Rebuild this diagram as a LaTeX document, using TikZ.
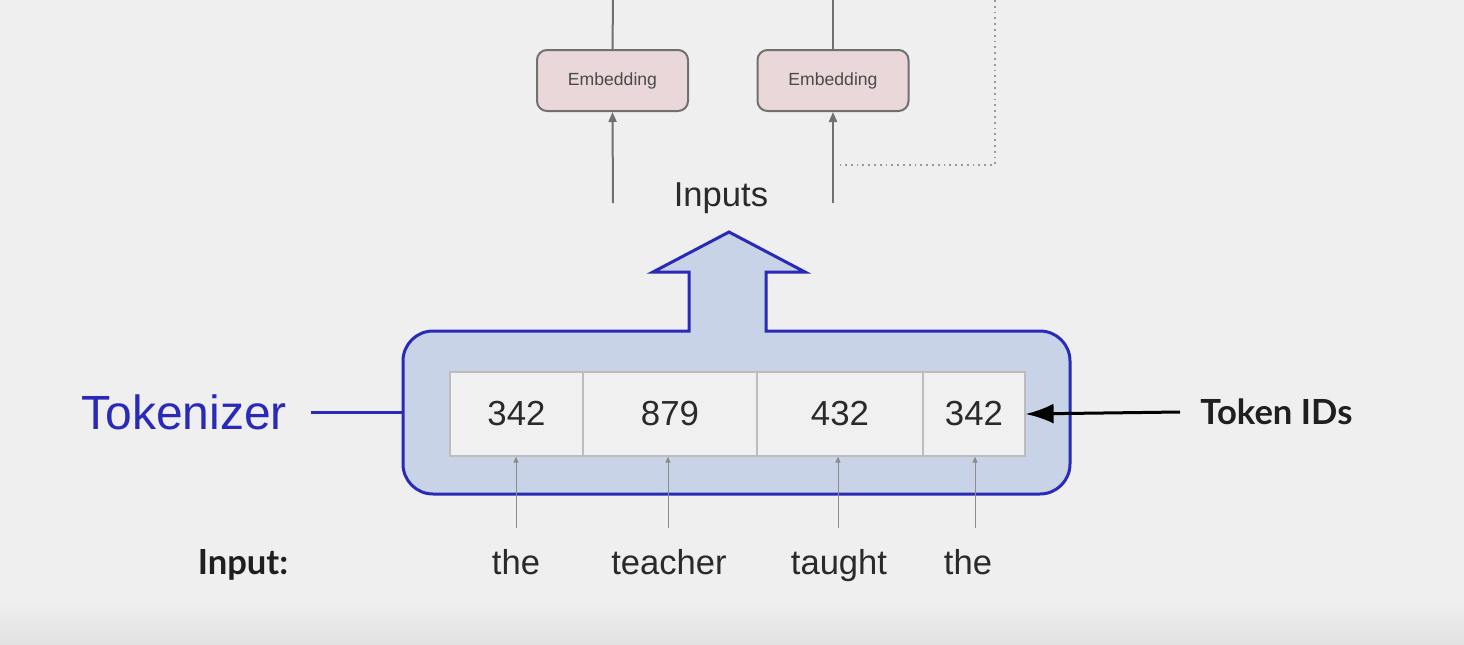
\documentclass[tikz,border=0pt]{standalone}
\usepackage{fontspec}
\setmainfont{Liberation Sans}
\newfontfamily\lato{Lato}
\usetikzlibrary{arrows.meta,calc}
\definecolor{bg}{HTML}{EFEFEF}
\definecolor{bgdark}{HTML}{E2E2E2}
\definecolor{tokblue}{HTML}{2A2AB8}
\definecolor{tokfill}{HTML}{C9D3E7}
\definecolor{embfill}{HTML}{E9D7DA}
\definecolor{embline}{HTML}{707070}
\definecolor{cellfill}{HTML}{F0F0F0}
\definecolor{cellline}{HTML}{BDBDBD}
\definecolor{txt}{HTML}{2A2A2A}
\tikzset{
  emb/.style={draw=embline, line width=1pt, fill=embfill, rounded corners=5pt,
    minimum width=75.5pt, minimum height=30.5pt, inner sep=0pt,
    font=\fontsize{8.8}{10}\selectfont, text=txt!85},
  cell/.style={draw=cellline, line width=0.6pt, fill=cellfill, minimum height=42pt,
    inner sep=0pt, font=\fontsize{17.4}{20}\selectfont, text=txt},
  word/.style={font=\fontsize{17.3}{20}\selectfont, text=txt, inner sep=0pt, anchor=base},
  boldlbl/.style={font=\lato\bfseries\fontsize{17.3}{20}\selectfont, text=black!88, inner sep=0pt},
  greyarrow/.style={draw=embline, line width=1pt, -{Triangle[length=5pt,width=4pt]}},
  thinarrow/.style={draw=black!45, line width=0.5pt, -{Triangle[length=3pt,width=2.5pt]}},
  dotline/.style={draw=black!40, line width=0.9pt, dotted},
}
\begin{document}
\begin{tikzpicture}[x=0.5pt,y=0.5pt]
  % background
  \fill[bg] (0,0) rectangle (1464,-644);
  \shade[top color=bg, bottom color=bgdark] (0,-600) rectangle (1464,-644);
  \useasboundingbox (0,0) rectangle (1464,-644);

  % embedding boxes
  \node[emb] (e1) at (612.5,-80.5) {Embedding};
  \node[emb] (e2) at (833,-80.5) {Embedding};
  \coordinate (t1) at (613,0);
  \coordinate (t2) at (833,0);
  \draw[embline, line width=1pt] (e1.north) -- (t1);
  \draw[embline, line width=1pt] (e2.north) -- (t2);
  \coordinate (b1) at (613,-203);
  \coordinate (b2) at (833,-203);
  \draw[greyarrow] (b1) -- (e1.south);
  \draw[greyarrow] (b2) -- (e2.south);
  % dotted feedback line
  \coordinate (d0) at (995,0);
  \coordinate (d1) at (995,-165);
  \coordinate (d2) at (840,-165);
  \draw[dotline] (d0) -- (d1) -- (d2);

  % Inputs label
  \node[word] (inputs) at (721,-206) {Inputs};

  % tokenizer box with arrow
  \draw[draw=tokblue, fill=tokfill, line width=1.5pt, line join=miter]
    (766,-331) -- (1040,-331) arc[start angle=90,end angle=0,radius=15pt]
    -- (1070,-464) arc[start angle=0,end angle=-90,radius=15pt]
    -- (433,-494) arc[start angle=270,end angle=180,radius=15pt]
    -- (403,-361) arc[start angle=180,end angle=90,radius=15pt]
    -- (689,-331) -- (689,-272) -- (653,-272) -- (729,-232)
    -- (805,-272) -- (766,-272) -- cycle;
  \coordinate (boxleft) at (403,-412);

  % cells
  \node[cell, minimum width=66.5pt] (c1) at (516.5,-414) {342};
  \node[cell, minimum width=87pt]   (c2) at (670,-414) {879};
  \node[cell, minimum width=83pt]   (c3) at (840,-414) {432};
  \node[cell, minimum width=51pt]   (c4) at (974,-414) {342};

  % Tokenizer label
  \node[font=\fontsize{24}{28}\selectfont, text=tokblue, inner sep=0pt, anchor=base]
    (tok) at (184,-429) {Tokenizer};
  \coordinate (tokend) at (311,-412);
  \draw[tokblue, line width=1.5pt] (tokend) -- (boxleft);

  % Token IDs
  \node[boldlbl, anchor=west] (tid) at (1200,-412) {Token IDs};
  \coordinate (tidstart) at (1180,-412);
  \draw[black, line width=1.5pt, -{Latex[length=14pt,width=10pt]}] (tidstart) -- (c4.east);

  % input words
  \node[boldlbl, anchor=base] (inlbl) at (243,-574) {Input:};
  \node[word] (w1) at (516,-574) {the};
  \node[word] (w2) at (669,-574) {teacher};
  \node[word] (w3) at (839,-574) {taught};
  \node[word] (w4) at (968,-574) {the};
  \coordinate (a1) at (516,-528);
  \coordinate (a2) at (668,-528);
  \coordinate (a3) at (838,-528);
  \coordinate (a4) at (975,-528);
  \draw[thinarrow] (a1) -- (a1 |- c1.south);
  \draw[thinarrow] (a2) -- (a2 |- c2.south);
  \draw[thinarrow] (a3) -- (a3 |- c3.south);
  \draw[thinarrow] (a4) -- (a4 |- c4.south);
\end{tikzpicture}
\end{document}
